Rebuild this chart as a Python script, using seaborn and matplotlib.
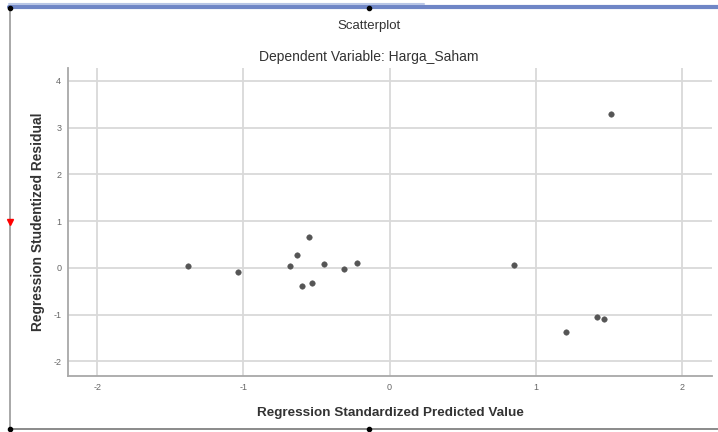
import numpy as np
import pandas as pd
import seaborn as sns
import matplotlib.pyplot as plt
from matplotlib.lines import Line2D

pred = [-1.38, -1.04, -0.68, -0.63, -0.55, -0.60, -0.53, -0.45, -0.31, -0.22,
        0.85, 1.21, 1.42, 1.47, 1.52]
resid = [0.04, -0.08, 0.03, 0.27, 0.67, -0.39, -0.33, 0.08, -0.02, 0.11,
         0.06, -1.38, -1.06, -1.09, 3.30]
xticks = [-2, -1, 0, 1, 2]
yticks = [-2, -1, 0, 1, 2, 3, 4]

df = pd.DataFrame({'pred': pred, 'resid': resid})

sns.set_style('white')
plt.rcParams['font.family'] = ['Liberation Sans', 'DejaVu Sans']
plt.rcParams['axes.unicode_minus'] = False

fig = plt.figure(figsize=(7.18, 4.32), dpi=100)
ax = fig.add_axes([0.095, 0.13, 0.897, 0.713])

sns.scatterplot(data=df, x='pred', y='resid', ax=ax, color='#555555',
                edgecolor='#555555', s=16, zorder=3)

ax.set_xlim(-2.2, 2.21)
ax.set_ylim(-2.31, 4.28)
ax.set_xticks(xticks)
ax.set_yticks(yticks)
ax.grid(True, color='#d9d9d9', linewidth=1.3)
ax.set_axisbelow(True)
for side in ['top', 'right']:
    ax.spines[side].set_visible(False)
for side in ['left', 'bottom']:
    ax.spines[side].set_color('#a8a8a8')
    ax.spines[side].set_linewidth(1.3)
ax.tick_params(axis='both', labelsize=6.5, colors='#aaaaaa', labelcolor='#666666',
               length=0, pad=5)

ax.set_xlabel('Regression Standardized Predicted Value', fontsize=9.7,
              fontweight='semibold', color='#333333', labelpad=11)
ax.set_ylabel('Regression Studentized Residual', fontsize=9.9,
              fontweight='semibold', color='#333333', labelpad=6)

fig.text(0.514, 0.94, 'Scatterplot', ha='center', va='center', fontsize=9.5,
         color='#333333')
fig.text(0.514, 0.868, 'Dependent Variable: Harga_Saham', ha='center',
         va='center', fontsize=10, color='#333333')

# window frame around the chart output
fig.add_artist(Line2D([0.013, 1.0], [0.984, 0.984], color='#6f86c6', lw=3))
fig.add_artist(Line2D([0.013, 0.59], [0.99, 0.99], color='#b8c6e6', lw=1.5))
fig.add_artist(Line2D([0.014, 0.014], [0.0, 0.984], color='#999999', lw=1.2))
fig.add_artist(Line2D([0.014, 1.0], [0.008, 0.008], color='#777777', lw=1.2))
for px, py in [(0.014, 0.982), (0.514, 0.982), (0.514, 0.008), (0.014, 0.008)]:
    fig.add_artist(Line2D([px], [py], marker='o', color='black', markersize=3))
fig.add_artist(Line2D([0.014], [0.486], marker='v', color='red', markersize=4))

fig.savefig('out.png', dpi=100)
